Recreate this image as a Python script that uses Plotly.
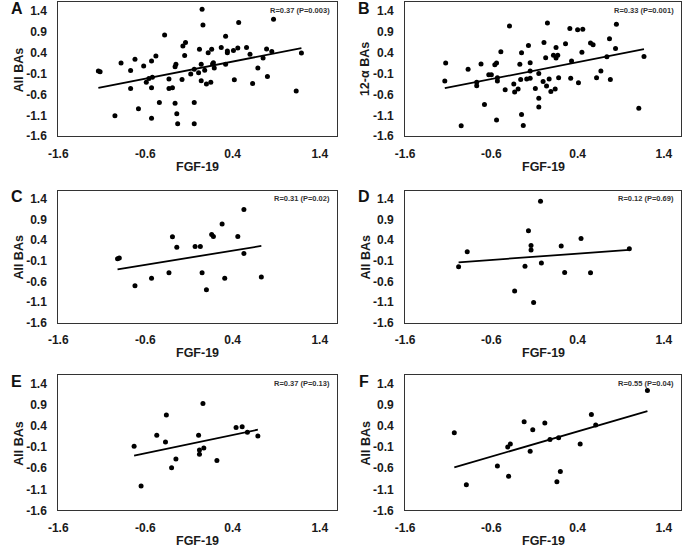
import plotly.graph_objects as go

# ---- data ----
a_x = [-1.14, -1.12, -0.95, -0.88, -0.77, -0.77, -0.72, -0.68, -0.62, -0.59, -0.56, -0.53, -0.53, -0.52, -0.53,
       -0.48, -0.44, -0.38, -0.33, -0.33, -0.29, -0.26, -0.25, -0.26, -0.24, -0.23, -0.18, -0.17, -0.15, -0.14,
       -0.08, -0.04, -0.04, -0.04, 0.01, 0.02, 0.04, 0.04, 0.05, 0.06, 0.08, 0.10, 0.12, 0.15, 0.16, 0.17, 0.18,
       0.19, 0.27, 0.32, 0.32, 0.34, 0.34, 0.41, 0.42, 0.46, 0.47, 0.56, 0.60, 0.63, 0.69, 0.75, 0.79, 0.80,
       0.85, 0.87, 1.13, 1.19]
a_y = [-0.04, -0.06, -1.11, 0.15, -0.03, -0.46, 0.24, -0.94, 0.08, -0.31, -0.22, 0.20, -0.44, -0.19, -1.17,
       0.32, -0.79, 0.82, -0.23, -0.46, -0.44, 0.06, 0.12, -0.81, -1.06, -1.30, -0.24, 0.56, 0.33, 0.64,
       -0.11, 0.00, -0.79, -1.30, -0.08, 0.48, 0.12, -0.27, 1.44, 1.06, -0.02, -0.35, 0.40, -0.31, 0.48, 0.13, 0.16,
       0.03, 0.52, 0.79, 0.12, 0.44, 0.40, 0.45, -0.25, 0.51, 1.12, 0.52, 0.36, -0.34, 0.03, 0.27, 0.49, -0.17,
       0.43, 1.20, -0.52, 0.39]

b_x = [-1.13, -1.14, -0.95, -0.87, -0.77, -0.77, -0.72, -0.68, -0.63, -0.60, -0.56, -0.54, -0.53, -0.53, -0.54,
       -0.49, -0.44, -0.39, -0.34, -0.33, -0.29, -0.27, -0.26, -0.25, -0.25, -0.23, -0.19, -0.17, -0.15, -0.15,
       -0.15, -0.09, -0.05, -0.05, -0.05, 0.00, 0.01, 0.03, 0.04, 0.05, 0.07, 0.09, 0.12, 0.14, 0.15, 0.15, 0.17,
       0.18, 0.26, 0.31, 0.32, 0.33, 0.41, 0.40, 0.45, 0.46, 0.55, 0.58, 0.62, 0.67, 0.74, 0.77, 0.78, 0.84,
       0.85, 1.11, 1.17]
b_y = [0.15, -0.28, -1.35, 0.00, -0.31, -0.39, 0.13, -0.84, -0.13, -0.13, 0.11, 0.15, -0.20, -0.28, -1.21,
       0.42, -0.49, 1.04, -0.35, -0.54, -0.47, 0.12, -0.24, 0.40, -1.08, -1.34, -0.23, 0.57, -0.21, -0.04,
       0.16, -0.46, -0.10, -0.69, -0.90, -0.29, 0.64, 0.28, -0.40, 1.11, -0.23, -0.53, 0.34, -0.47, 0.52, 0.27, 0.34,
       -0.20, 0.61, 0.98, -0.21, 0.20, -0.32, 0.95, 0.41, 0.96, 0.63, 0.59, -0.20, -0.04, 0.30, 0.73, -0.24, 0.50,
       1.08, -0.93, 0.31]

c_x = [-0.92, -0.90, -0.72, -0.53, -0.33, -0.29, -0.24, -0.03, 0.03, 0.05, 0.10, 0.16, 0.18, 0.28, 0.31,
       0.46, 0.53, 0.53, 0.73]
c_y = [-0.05, -0.03, -0.70, -0.52, -0.39, 0.48, 0.23, 0.25, 0.25, -0.39, -0.80, 0.54, 0.49, 0.79, -0.52,
       0.49, 1.14, 0.08, -0.49]

d_x = [-0.98, -0.88, -0.33, -0.21, -0.17, -0.14, -0.14, -0.11, -0.03, -0.02, 0.21, 0.25, 0.44, 0.55, 1.00]
d_y = [-0.24, 0.12, -0.83, -0.23, 0.63, 0.27, 0.16, -1.11, 1.34, -0.15, 0.26, -0.38, 0.44, -0.39, 0.19]

e_x = [-0.73, -0.65, -0.47, -0.37, -0.36, -0.30, -0.25, 0.01, 0.02, 0.02, 0.06, 0.07, 0.22, 0.44, 0.51,
       0.57, 0.69]
e_y = [-0.08, -1.02, 0.18, 0.02, 0.66, -0.59, -0.38, 0.18, -0.17, -0.27, 0.93, -0.12, -0.42, 0.36, 0.38,
       0.25, 0.16]

f_x = [-1.03, -0.89, -0.53, -0.41, -0.38, -0.40, -0.22, -0.15, -0.12, 0.02, 0.08, 0.16, 0.18, 0.20, 0.43,
       0.56, 0.61, 1.21]
f_y = [0.24, -0.99, -0.55, -0.10, -0.03, -0.79, 0.50, -0.20, 0.31, 0.47, 0.08, -0.92, 0.12, -0.68, -0.03,
       0.67, 0.42, 1.24]

# fitted trend lines (slope, intercept) as shown in the figure
fits = {"A": (0.409, 0.022), "B": (0.405, 0.011), "C": (0.342, 0.010),
        "D": (0.151, 0.013), "E": (0.433, 0.012), "F": (0.596, 0.031)}

letters = ["A", "B", "C", "D", "E", "F"]
y_titles = ["All BAs", "12-α BAs", "All BAs", "All BAs", "All BAs", "All BAs"]
r_texts = ["R=0.37 (P=0.003)", "R=0.33 (P=0.001)", "R=0.31 (P=0.02)",
           "R=0.12 (P=0.69)", "R=0.37 (P=0.13)", "R=0.55 (P=0.04)"]
xs = [a_x, b_x, c_x, d_x, e_x, f_x]
ys = [a_y, b_y, c_y, d_y, e_y, f_y]

x_ticks = [-1.6, -0.6, 0.4, 1.4]
y_ticks = [-1.6, -1.1, -0.6, -0.1, 0.4, 0.9, 1.4]

W, H = 685, 553
cols = [(49, 332), (401, 681)]
rows = [(2.5, 138), (193, 327), (380, 517)]
FONT = "Liberation Sans, Arial, sans-serif"

fig = go.Figure()
annotations = []

for i, letter in enumerate(letters):
    (x0, x1), (y0, y1) = cols[i % 2], rows[i // 2]
    n = "" if i == 0 else str(i + 1)
    xa, ya = "x" + n, "y" + n

    fig.add_trace(go.Scatter(x=xs[i], y=ys[i], mode="markers", xaxis=xa, yaxis=ya,
                             marker=dict(color="black", size=5), showlegend=False))
    m, b = fits[letter]
    lx = [min(xs[i]), max(xs[i])]
    fig.add_trace(go.Scatter(x=lx, y=[m * v + b for v in lx], mode="lines", xaxis=xa, yaxis=ya,
                             line=dict(color="black", width=1.8), showlegend=False))

    common = dict(showgrid=False, zeroline=False, showline=True, mirror=True,
                  linecolor="#333", linewidth=1, ticks="outside", tickcolor="rgba(0,0,0,0)",
                  tickfont=dict(family=FONT, size=12, color="#1a1a1a", weight="bold"))
    fig.update_layout({
        "xaxis" + n: dict(common, domain=[x0 / W, x1 / W], anchor=ya, range=[-1.6, 1.6],
                          tickvals=x_ticks, ticktext=[f"{v:.1f}" for v in x_ticks], ticklen=6),
        "yaxis" + n: dict(common, domain=[1 - y1 / H, 1 - y0 / H], anchor=xa, range=[-1.6, 1.6],
                          tickvals=y_ticks, ticktext=[f"{v:.1f}" for v in y_ticks], ticklen=8),
    })

    annotations += [
        dict(text=letter, x=(x0 - 42) / W, y=1 - (y0 + 6) / H, xref="paper", yref="paper",
             showarrow=False, xanchor="center", yanchor="middle",
             font=dict(family=FONT, size=16, color="#111", weight="bold")),
        dict(text=y_titles[i], x=(x0 - 40) / W, y=1 - (y0 + y1) / 2 / H, xref="paper", yref="paper",
             showarrow=False, xanchor="center", yanchor="middle", textangle=-90,
             font=dict(family=FONT, size=12.5, color="#1a1a1a", weight="bold")),
        dict(text="FGF-19", x=(x0 + x1) / 2 / W, y=1 - (y1 + 31) / H, xref="paper", yref="paper",
             showarrow=False, xanchor="center", yanchor="middle",
             font=dict(family=FONT, size=12.5, color="#1a1a1a", weight="bold")),
        dict(text=r_texts[i], x=(x1 - 5) / W, y=1 - (y0 + 8.5) / H, xref="paper", yref="paper",
             showarrow=False, xanchor="right", yanchor="middle",
             font=dict(family=FONT, size=7.5, color="#333", weight="bold")),
    ]

fig.update_layout(width=W, height=H, margin=dict(l=0, r=0, t=0, b=0),
                  paper_bgcolor="white", plot_bgcolor="white", annotations=annotations)

fig.write_html("out.html", config={"displayModeBar": False},
               post_script="document.body.style.margin='0';document.body.style.overflow='hidden';")
